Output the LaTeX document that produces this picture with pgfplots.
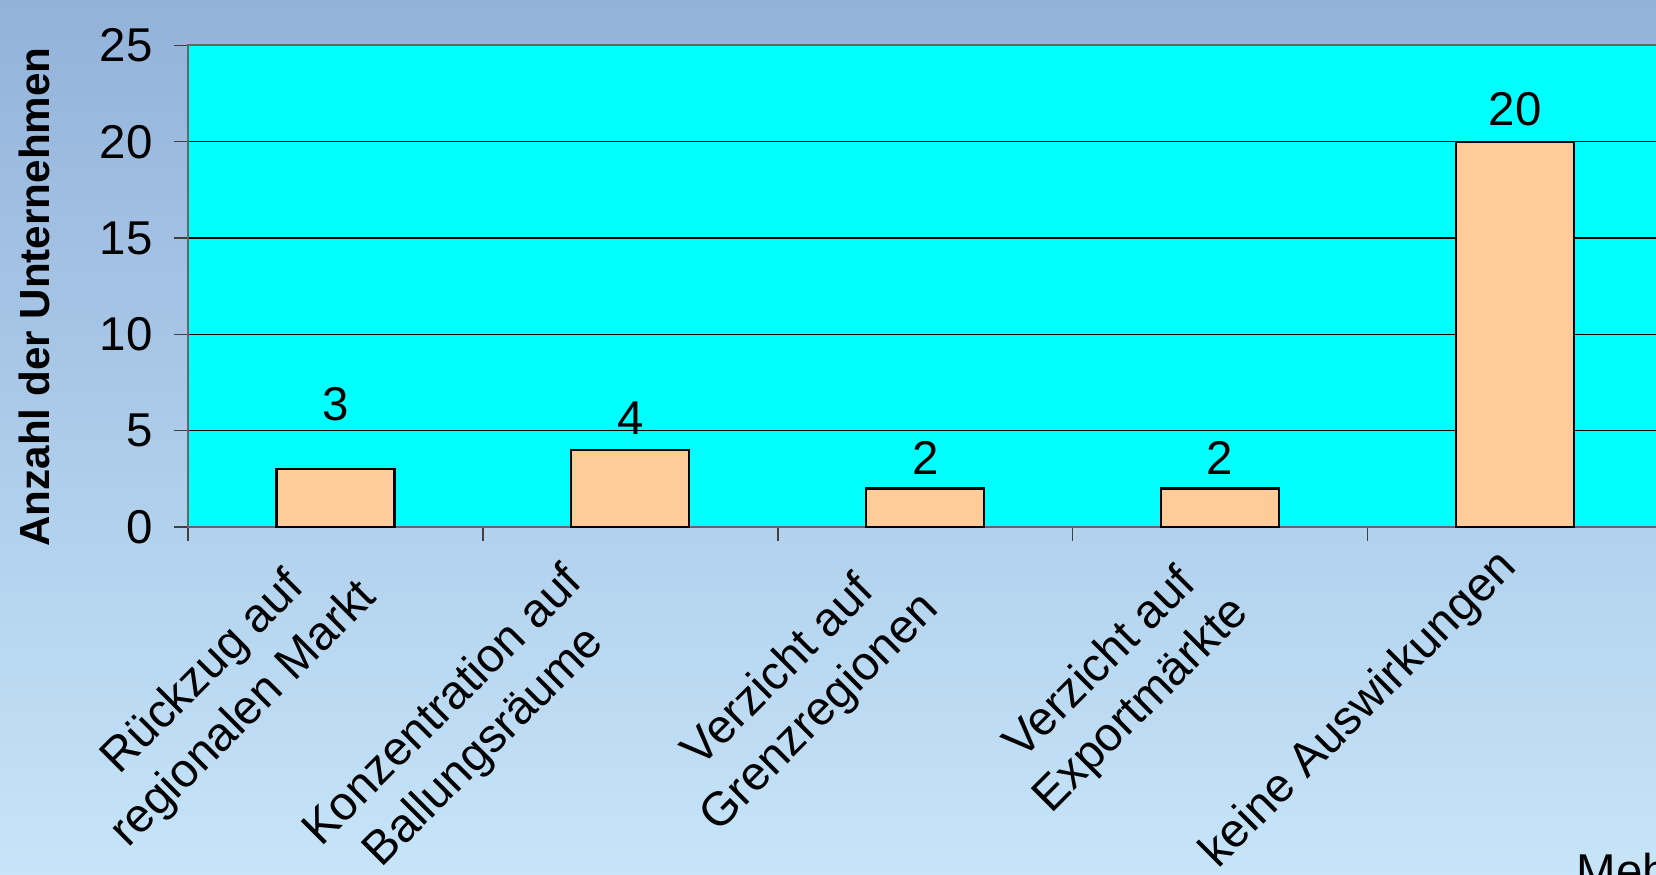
\documentclass[border=0pt]{standalone}
\usepackage{fontspec}
\setmainfont{Liberation Sans}
\usepackage{pgfplots}
\pgfplotsset{compat=1.18}
\definecolor{bgtop}{RGB}{147,178,218}
\definecolor{bgbot}{RGB}{198,229,249}
\definecolor{barfill}{RGB}{255,204,153}
\definecolor{plotbg}{RGB}{0,255,255}
\newcommand{\lbl}{\fontsize{13.5}{16.5}\selectfont}
\begin{document}
\begin{tikzpicture}
\useasboundingbox (0,0) rectangle (165.6mm,87.4mm);
\clip (0,0) rectangle (165.6mm,87.4mm);
\shade[top color=bgtop, bottom color=bgbot] (0,0) rectangle (165.6mm,87.4mm);
\begin{axis}[
  at={(18.8mm,34.7mm)}, anchor=south west,
  width=147.45mm, height=48.16mm, scale only axis,
  xmin=-0.5, xmax=4.5, ymin=0, ymax=25,
  axis background/.style={fill=plotbg},
  axis line style={draw=black!60, line width=0.6pt},
  xtick={-0.5,0.5,...,4.5}, xticklabels={},
  ytick={0,5,...,25},
  xtick pos=bottom, ytick pos=left,
  tick align=outside, major tick length=1.4mm,
  tick style={draw=black!75, line width=0.4pt},
  ymajorgrids, grid style={black, line width=0.4pt},
  yticklabel style={font=\lbl, xshift=-0.9mm},
  /pgf/number format/assume math mode=true,
  ylabel={Anzahl der Unternehmen},
  ylabel style={font=\fontsize{12}{14}\selectfont\bfseries, at={(axis description cs:-0.1044,0.4776)}, anchor=center},
  clip=false,
  ybar, bar width=11.8mm,
]
\addplot[fill=barfill, draw=black, line width=0.6pt] coordinates {(0,3) (1,4) (2,2) (3,2) (4,20)};
\node[font=\lbl] at (axis cs:0,6.36) {3};
\node[font=\lbl] at (axis cs:1,5.65) {4};
\node[font=\lbl] at (axis cs:2,3.56) {2};
\node[font=\lbl] at (axis cs:3,3.56) {2};
\node[font=\lbl] at (axis cs:4,21.7) {20};
\node[font=\lbl, rotate=45, align=center, anchor=center] at (axis cs:-0.377,-8.69) {Rückzug auf\\regionalen Markt};
\node[font=\lbl, rotate=45, align=center, anchor=center] at (axis cs:0.438,-10.42) {Konzentration auf\\Ballungsräume};
\node[font=\lbl, rotate=45, align=center, anchor=center] at (axis cs:1.576,-8.62) {Verzicht auf\\Grenzregionen};
\node[font=\lbl, rotate=45, align=center, anchor=center] at (axis cs:2.666,-8.21) {Verzicht auf\\Exportmärkte};
\node[font=\lbl, rotate=45, align=center, anchor=center] at (axis cs:3.473,-9.51) {keine Auswirkungen};
\end{axis}
\node[anchor=base west, font=\lbl, inner sep=0pt] at (157.6mm,-1.3mm) {Mehrfachnennungen möglich};
\end{tikzpicture}
\end{document}
